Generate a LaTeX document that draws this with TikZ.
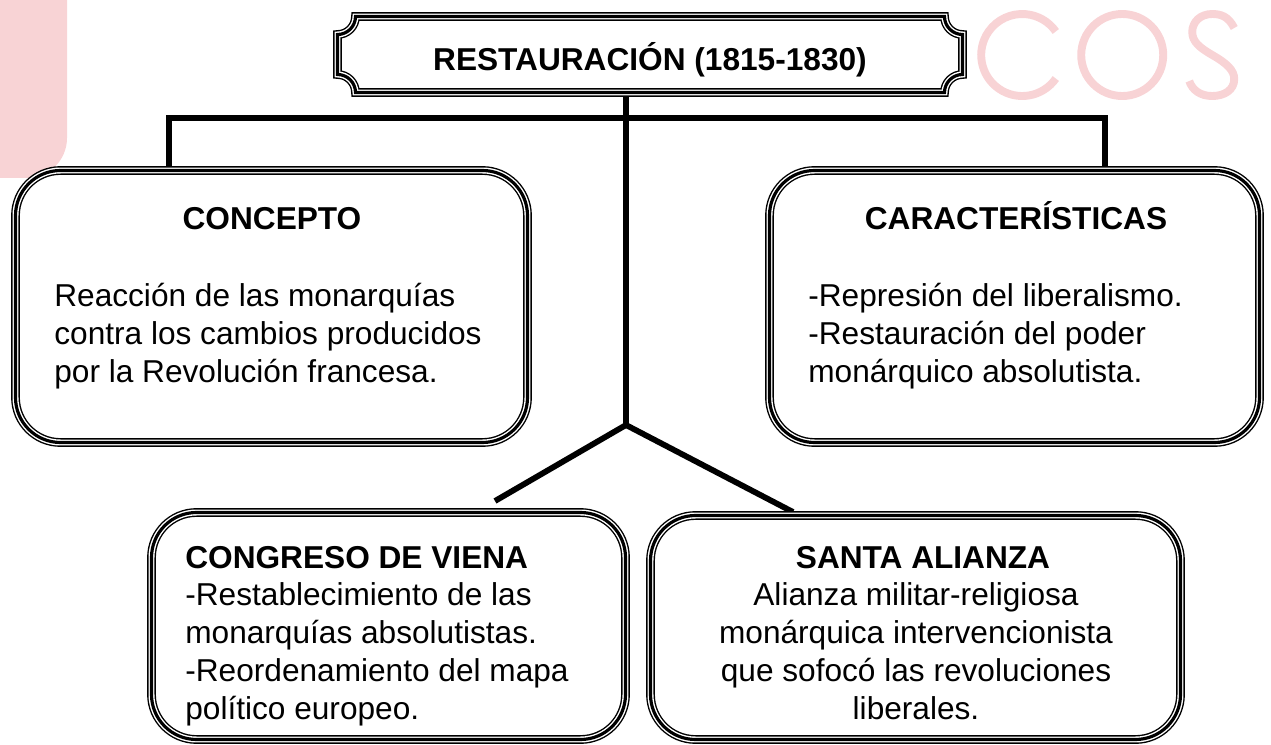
\documentclass[tikz,border=0pt]{standalone}
\usepackage{fontspec}
\setmainfont{Liberation Sans}
\usetikzlibrary{positioning, calc, backgrounds}
\definecolor{rosamarca}{RGB}{248,211,213}

\begin{document}
\begin{tikzpicture}[
    font=\fontsize{18}{21.6}\selectfont,
    % Estilos de cajas
    tripleborde/.style={draw=black, line width=5pt, postaction={draw=white, line width=3.4pt}, postaction={draw=black, line width=1.8pt}},
    caja/.style={rectangle, rounded corners=0.9cm, fill=white, tripleborde, inner sep=0pt, outer sep=0pt},
    encabezado/.style={font=\fontsize{18}{21.6}\selectfont\bfseries, inner sep=0pt},
    cuerpo/.style={inner sep=0pt},
    conector/.style={line width=3.3pt}
]
\useasboundingbox (0,0) rectangle (25.42,-14.9);

% -------------------------
% CAJAS
% -------------------------
\node[caja, minimum width=10.24cm, minimum height=5.44cm] (concepto) at (5.43,-6.13) {};
\node[caja, minimum width=9.8cm, minimum height=5.44cm] (caracteristicas) at (20.29,-6.13) {};
\node[caja, minimum width=9.48cm, minimum height=4.54cm] (congreso) at (7.77,-12.52) {};
\node[caja, minimum width=10.6cm, minimum height=4.48cm] (santa) at (18.31,-12.55) {};

% Titulo (marco con esquinas hacia dentro)
\node[minimum width=12.5cm, minimum height=1.52cm, inner sep=0pt, outer sep=0pt] (titulo) at (13,-1.09) {};
\draw[tripleborde, fill=white]
    ([xshift=0.36cm]titulo.north west) -- ([xshift=-0.36cm]titulo.north east)
    arc[start angle=180, end angle=270, radius=0.36cm]
    -- ([yshift=0.36cm]titulo.south east)
    arc[start angle=90, end angle=180, radius=0.36cm]
    -- ([xshift=0.36cm]titulo.south west)
    arc[start angle=0, end angle=90, radius=0.36cm]
    -- ([yshift=-0.36cm]titulo.north west)
    arc[start angle=270, end angle=360, radius=0.36cm]
    -- cycle;
\node[encabezado, anchor=base] (titulotxt) at (13,-1.42) {RESTAURACIÓN (1815-1830)};

% -------------------------
% TEXTOS
% -------------------------
\node[encabezado, anchor=base] (conceptotit) at (5.44,-4.60) {CONCEPTO};
\node[cuerpo, anchor=north west, align=left] (conceptotxt) at (1.08,-5.588) {\strut Reacción de las monarquías\\contra los cambios producidos\\por la Revolución francesa.};

\node[encabezado, anchor=base] (caractit) at (20.32,-4.60) {CARACTERÍSTICAS};
\node[cuerpo, anchor=north west, align=left] (caractxt) at (16.16,-5.588) {\strut -Represión del liberalismo.\\-Restauración del poder\\monárquico absolutista.};

\node[encabezado, anchor=base west] (congresotit) at (3.70,-11.36) {CONGRESO DE VIENA};
\node[cuerpo, anchor=north west, align=left] (congresotxt) at (3.70,-11.568) {\strut -Restablecimiento de las\\monarquías absolutistas.\\-Reordenamiento del mapa\\político europeo.};

\node[encabezado, anchor=base] (santatit) at (18.46,-11.36) {SANTA ALIANZA};
\node[cuerpo, anchor=north, align=center] (santatxt) at (18.32,-11.568) {\strut Alianza militar-religiosa\\monárquica intervencionista\\que sofocó las revoluciones\\liberales.};

% -------------------------
% FONDO Y CONEXIONES
% -------------------------
\begin{scope}[on background layer]
    % marca de agua
    \fill[rosamarca] (0,0) -- (1.34,0) -- (1.34,-2.76) arc[start angle=0, end angle=-90, radius=0.8] -- (0,-3.56) -- cycle;
    \begin{scope}[x=0.02cm, y=-0.02cm, draw=rosamarca, line width=4.5pt]
        \draw (1022,55) ++(35:41) arc[start angle=35, end angle=325, radius=41];
        \draw (1122,55) circle[radius=41];
        \draw (1234,28) .. controls (1228,16) and (1220,14) .. (1212,14)
            .. controls (1200,14) and (1192,22) .. (1192,32)
            .. controls (1192,42) and (1200,48) .. (1212,55)
            .. controls (1226,63) and (1234,70) .. (1234,79)
            .. controls (1234,90) and (1224,96) .. (1212,96)
            .. controls (1200,96) and (1192,90) .. (1189,81);
    \end{scope}

    % conexiones
    \coordinate (nudo) at (12.52,-8.50);
    \draw[conector] (nudo |- titulo.south) -- (nudo);
    \draw[conector] ([xshift=-2.05cm]concepto.north) -- ++(0,1.05) -| ([xshift=1.81cm]caracteristicas.north);
    \draw[conector] (nudo) -- ([xshift=2.13cm, yshift=0.23cm]congreso.north);
    \draw[conector] (nudo) -- ([xshift=-2.45cm, yshift=0.07cm]santa.north);
\end{scope}

\end{tikzpicture}
\end{document}
